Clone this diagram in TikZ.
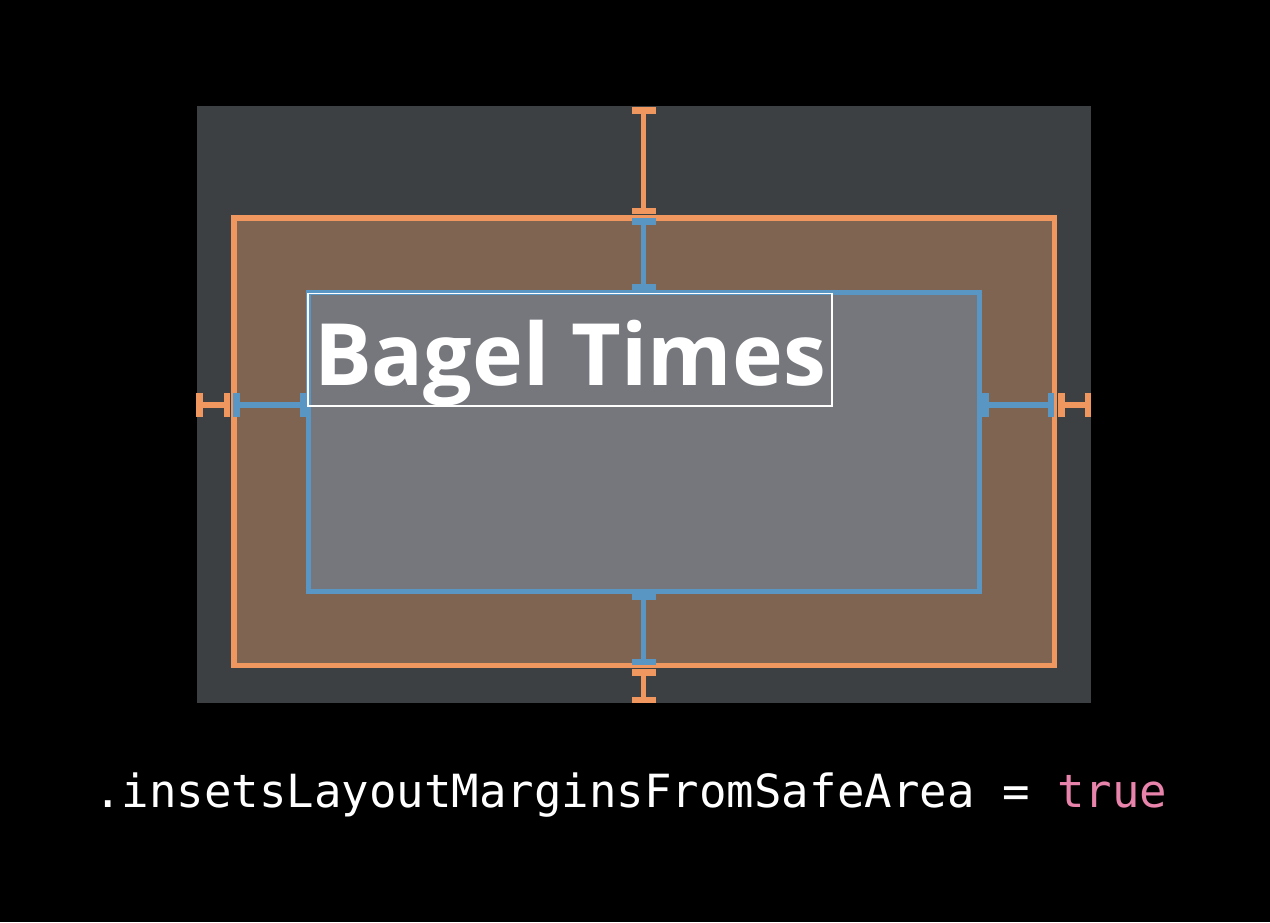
\documentclass[tikz,border=0pt]{standalone}
\usepackage{fontspec}
\usetikzlibrary{calc}
\newfontfamily\titlefont{Open Sans}[BoldFont={* Bold}]
\newfontfamily\codefont{DejaVu Sans Mono}
\definecolor{panel}{RGB}{60,64,67}
\definecolor{safefill}{RGB}{127,100,82}
\definecolor{safeline}{RGB}{240,150,95}
\definecolor{marginfill}{RGB}{118,119,124}
\definecolor{marginline}{RGB}{90,150,196}
\definecolor{keyword}{RGB}{232,131,171}
\tikzset{
  shaft/.style={line width=5.5pt},
}
% vertical inset marker: colour, top end, bottom end
\newcommand\vmarker[3]{%
  \draw[shaft, draw=#1] (#2) -- (#3);
  \fill[#1] ($(#2)+(-12,0)$) rectangle ($(#2)+(12,6.5)$);
  \fill[#1] ($(#3)+(-12,-6.5)$) rectangle ($(#3)+(12,0)$);
}
% horizontal inset marker: colour, left end, right end
\newcommand\hmarker[3]{%
  \draw[shaft, draw=#1] (#2) -- (#3);
  \fill[#1] ($(#2)+(0,-12)$) rectangle ($(#2)+(6.5,12)$);
  \fill[#1] ($(#3)+(-6.5,-12)$) rectangle ($(#3)+(0,12)$);
}
\begin{document}
\begin{tikzpicture}[x=1pt,y=-1pt]
  % canvas
  \fill[black] (0,0) rectangle (1270,922);
  \useasboundingbox (0,0) rectangle (1270,922);

  % view bounds, safe area, layout margins
  \fill[panel] (197,106) rectangle (1091,703);
  \filldraw[fill=safefill, draw=safeline, line width=5.5pt] (234,218) rectangle (1054.5,665.5);
  \filldraw[fill=marginfill, draw=marginline, line width=5pt] (308.5,292.5) rectangle (979.5,591);

  % inset markers
  \coordinate (ta) at (643.5,107);   \coordinate (tb) at (643.5,214);
  \coordinate (tc) at (643.5,218);   \coordinate (td) at (643.5,290);
  \coordinate (ba) at (643.5,593);   \coordinate (bb) at (643.5,665);
  \coordinate (bc) at (643.5,669);   \coordinate (bd) at (643.5,703);
  \coordinate (la) at (196,405);     \coordinate (lb) at (230,405);
  \coordinate (lc) at (233,405);     \coordinate (ld) at (306,405);
  \coordinate (ra) at (982,405);     \coordinate (rb) at (1054,405);
  \coordinate (rc) at (1058,405);    \coordinate (rd) at (1091,405);

  \vmarker{safeline}{ta}{tb}
  \vmarker{marginline}{tc}{td}
  \vmarker{marginline}{ba}{bb}
  \vmarker{safeline}{bc}{bd}
  \hmarker{safeline}{la}{lb}
  \hmarker{marginline}{lc}{ld}
  \hmarker{marginline}{ra}{rb}
  \hmarker{safeline}{rc}{rd}

  % label frame
  \draw[white, line width=1.3pt] (308,293.5) rectangle (832,406);
  \node[anchor=base west, inner sep=0pt, text=white, font=\titlefont\bfseries\fontsize{86}{86}\selectfont]
    (title) at (314,385) {Bagel Times};

  % property caption
  \node[anchor=base west, inner sep=0pt, text=white, font=\codefont\fontsize{45.7}{46}\selectfont]
    (code) at (94,807) {.insetsLayoutMarginsFromSafeArea = \textcolor{keyword}{true}};
\end{tikzpicture}
\end{document}
